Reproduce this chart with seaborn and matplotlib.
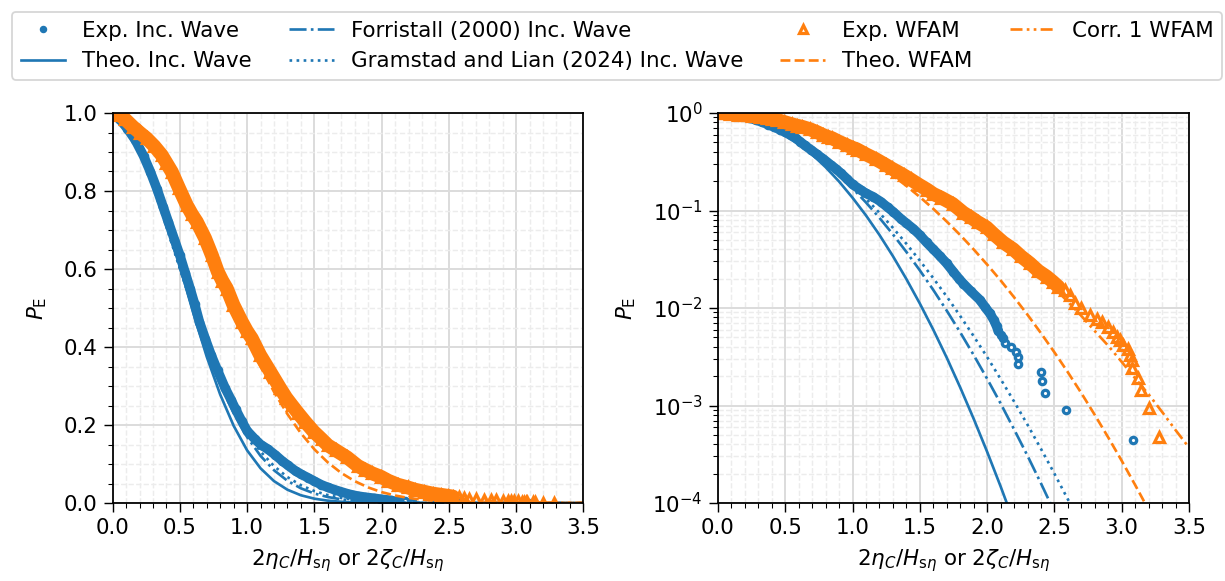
import matplotlib
matplotlib.use("Agg")
import matplotlib.pyplot as plt
from matplotlib.lines import Line2D
from matplotlib.ticker import AutoMinorLocator, MultipleLocator
import seaborn as sns

plt.rcParams["font.size"] = 12
plt.rcParams["xtick.major.size"] = 5
plt.rcParams["ytick.major.size"] = 5
plt.rcParams["xtick.minor.size"] = 3
plt.rcParams["ytick.minor.size"] = 3

BLUE = "#1f77b4"
ORANGE = "#ff7f0e"

# ---------------------------------------------------------------------------
# Model exceedance curves, sampled on a common crest-height grid
# ---------------------------------------------------------------------------
x_model = [0.0, 0.1, 0.2, 0.3, 0.4, 0.5, 0.6, 0.7, 0.8, 0.9,
           1.0, 1.1, 1.2, 1.3, 1.4, 1.5, 1.6, 1.7, 1.8, 1.9,
           2.0, 2.1, 2.2, 2.3, 2.4, 2.5, 2.6, 2.7, 2.8, 2.9,
           3.0, 3.1, 3.2, 3.3, 3.4, 3.5]

p_theo_inc = [1.0, 0.980, 0.923, 0.835, 0.726, 0.607, 0.487, 0.375, 0.278, 0.198,
              0.135, 0.0889, 0.0561, 0.0340, 0.0198, 0.0111, 5.98e-3, 3.09e-3, 1.53e-3, 7.3e-4,
              3.35e-4, 1.48e-4, 6.3e-5, 2.5e-5, 9.9e-6, 3.7e-6, 1.3e-6, 4.6e-7, 1.6e-7, 5.0e-8,
              1.5e-8, 4.5e-9, 1.3e-9, 3.5e-10, 9.1e-11, 2.3e-11]

p_forristall = [1.0, 0.9735, 0.9094, 0.8198, 0.7151, 0.6044, 0.4958, 0.3950, 0.3060, 0.2305,
                0.1690, 0.1207, 0.0840, 0.0569, 0.0376, 0.0243, 0.0153, 9.38e-3, 5.63e-3, 3.29e-3,
                1.88e-3, 1.05e-3, 5.7e-4, 3.05e-4, 1.59e-4, 8.1e-5, 4.0e-5, 2.0e-5, 9.3e-6, 4.4e-6,
                2.0e-6, 8.8e-7, 3.8e-7, 1.6e-7, 6.9e-8, 2.8e-8]

p_gramstad = [1.0, 0.970, 0.9026, 0.8119, 0.7083, 0.6008, 0.4960, 0.3993, 0.3135, 0.2404,
              0.1801, 0.1320, 0.0946, 0.0664, 0.0456, 0.0306, 0.0202, 0.0131, 8.27e-3, 5.14e-3,
              3.14e-3, 1.87e-3, 1.10e-3, 6.35e-4, 3.59e-4, 2.0e-4, 1.09e-4, 5.8e-5, 3.1e-5, 1.6e-5,
              8.1e-6, 4.1e-6, 2.0e-6, 9.7e-7, 4.6e-7, 2.2e-7]

p_theo_wfam = [1.0, 0.9923, 0.9686, 0.9294, 0.8763, 0.8117, 0.7385, 0.6598, 0.5788, 0.4986,
               0.4216, 0.3499, 0.2850, 0.2278, 0.1787, 0.1376, 0.1040, 0.0770, 0.0560, 0.0399,
               0.0279, 0.0192, 0.0129, 8.53e-3, 5.52e-3, 3.51e-3, 2.19e-3, 1.34e-3, 8.0e-4, 4.7e-4,
               2.71e-4, 1.53e-4, 8.5e-5, 4.6e-5, 2.4e-5, 1.3e-5]

p_corr1_wfam = [1.0, 0.990, 0.955, 0.915, 0.865, 0.800, 0.730, 0.660, 0.575, 0.500,
                0.435, 0.370, 0.312, 0.260, 0.215, 0.176, 0.143, 0.117, 0.094, 0.075,
                0.060, 0.047, 0.037, 0.029, 0.0218, 0.016, 0.0116, 0.0083, 0.0058, 0.0041,
                0.0028, 0.0019, 0.0013, 8.6e-4, 5.6e-4, 3.7e-4]

# ---------------------------------------------------------------------------
# Measured crest exceedance (dense body and sparse extreme tail)
# ---------------------------------------------------------------------------
x_exp_inc = [0.0, 0.05, 0.11, 0.17, 0.23, 0.28, 0.33, 0.375, 0.415, 0.46,
             0.50, 0.54, 0.576, 0.61, 0.645, 0.69, 0.732, 0.78, 0.836, 0.88,
             0.915, 0.96, 1.0, 1.06, 1.10, 1.154, 1.21, 1.26, 1.302, 1.36,
             1.40, 1.451, 1.50, 1.55, 1.60, 1.65, 1.699, 1.748, 1.79, 1.823,
             1.88, 1.946, 1.985, 2.02, 2.05, 2.07, 2.083]
p_exp_inc = [1.0, 0.985, 0.96, 0.93, 0.89, 0.85, 0.805, 0.76, 0.72, 0.675,
             0.635, 0.59, 0.55, 0.51, 0.465, 0.42, 0.38, 0.34, 0.295, 0.265,
             0.24, 0.21, 0.185, 0.163, 0.15, 0.138, 0.123, 0.108, 0.097, 0.082,
             0.074, 0.065, 0.056, 0.047, 0.040, 0.034, 0.0287, 0.0236, 0.020, 0.0178,
             0.0148, 0.0121, 0.0102, 0.0088, 0.0075, 0.0065, 0.0058]
x_exp_inc_tail = [2.10, 2.12, 2.132, 2.177, 2.216, 2.226, 2.229, 2.402, 2.407, 2.427, 2.585, 3.085]
p_exp_inc_tail = [0.0053, 0.0049, 0.0044, 0.0040, 0.00356, 0.00311, 0.00267, 0.00222,
                  0.00178, 0.00133, 0.00089, 0.000444]

x_exp_wfam = [0.0, 0.05, 0.09, 0.15, 0.20, 0.253, 0.31, 0.365, 0.40, 0.44,
              0.494, 0.551, 0.59, 0.626, 0.687, 0.737, 0.782, 0.815, 0.849, 0.898,
              0.96, 1.0, 1.035, 1.097, 1.171, 1.246, 1.29, 1.332, 1.38, 1.432,
              1.495, 1.556, 1.60, 1.66, 1.743, 1.823, 1.878, 1.93, 1.996, 2.05,
              2.12, 2.194, 2.25, 2.318, 2.38, 2.442, 2.49, 2.53]
p_exp_wfam = [1.0, 0.995, 0.985, 0.965, 0.95, 0.935, 0.915, 0.892, 0.872, 0.849,
              0.807, 0.764, 0.74, 0.721, 0.679, 0.636, 0.593, 0.57, 0.55, 0.508,
              0.465, 0.44, 0.422, 0.379, 0.337, 0.294, 0.27, 0.251, 0.23, 0.208,
              0.183, 0.163, 0.148, 0.135, 0.117, 0.095, 0.085, 0.076, 0.067, 0.057,
              0.047, 0.040, 0.034, 0.0287, 0.024, 0.021, 0.0185, 0.0165]
x_exp_wfam_tail = [2.578, 2.615, 2.652, 2.701, 2.763, 2.813, 2.85, 2.90, 2.937, 2.962,
                   2.987, 3.011, 3.045, 3.061, 3.073, 3.08, 3.123, 3.141, 3.202, 3.279]
p_exp_wfam_tail = [0.0153, 0.0136, 0.0112, 0.0099, 0.0085, 0.0078, 0.0072, 0.0064, 0.0057, 0.0051,
                   0.0047, 0.0042, 0.0038, 0.0033, 0.0029, 0.0024, 0.0019, 0.00143, 0.00095, 0.00048]

labels = ["Exp. Inc. Wave", "Theo. Inc. Wave", "Forristall (2000) Inc. Wave",
          "Gramstad and Lian (2024) Inc. Wave", "Exp. WFAM", "Theo. WFAM", "Corr. 1 WFAM"]

INC_MARK = dict(marker="o", ms=3.6, mfc="none", mec=BLUE, mew=1.8)
WFAM_MARK = dict(marker="^", ms=5.4, mfc="none", mec=ORANGE, mew=1.8)
CORR_DASHES = (4.5, 1.6, 1.0, 1.6, 1.0, 1.6)


def line(ax, x, y, color, lw=1.5, ls="-", **kw):
    sns.lineplot(x=x, y=y, ax=ax, color=color, lw=lw, ls=ls, sort=False,
                 estimator=None, legend=False, **kw)
    return ax.lines[-1]


def markers(ax, x, y, style):
    sns.lineplot(x=x, y=y, ax=ax, ls="none", sort=False, estimator=None,
                 legend=False, **style)


def draw_panel(ax):
    # incident wave
    line(ax, x_exp_inc, p_exp_inc, BLUE, lw=5.4, solid_capstyle="round")
    markers(ax, x_exp_inc + x_exp_inc_tail, p_exp_inc + p_exp_inc_tail, INC_MARK)
    line(ax, x_model, p_theo_inc, BLUE)
    line(ax, x_model, p_forristall, BLUE, ls="-.")
    line(ax, x_model, p_gramstad, BLUE, ls=":")
    # wave-following measurement
    line(ax, x_exp_wfam, p_exp_wfam, ORANGE, lw=7.8, solid_capstyle="round")
    markers(ax, x_exp_wfam + x_exp_wfam_tail, p_exp_wfam + p_exp_wfam_tail, WFAM_MARK)
    line(ax, x_model, p_theo_wfam, ORANGE, ls="--")
    corr = line(ax, x_model, p_corr1_wfam, ORANGE, ls="--")
    corr.set_dashes(CORR_DASHES)

    ax.set_xlim(0, 3.5)
    ax.xaxis.set_major_locator(MultipleLocator(0.5))
    ax.xaxis.set_minor_locator(AutoMinorLocator())
    ax.set_axisbelow(True)
    ax.grid(True, which="major", color="#dcdcdc", lw=1.1)
    ax.grid(True, which="minor", color="#ececec", lw=0.8, ls="--")
    ax.set_xlabel(r"$2\eta_C/H_{\mathrm{s}\eta}$ or $2\zeta_C/H_{\mathrm{s}\eta}$", labelpad=5)
    ax.set_ylabel(r"$P_\mathrm{E}$", labelpad=8)
    for s in ax.spines.values():
        s.set_linewidth(1.0)


W, H = 1225, 581
fig = plt.figure(figsize=(W / 128, H / 128), dpi=128)
ax_lin = fig.add_axes([112.6 / W, 78 / H, 470.8 / W, 390 / H])
ax_log = fig.add_axes([718 / W, 78 / H, 471 / W, 390 / H])

draw_panel(ax_lin)
ax_lin.set_ylim(0, 1)
ax_lin.yaxis.set_minor_locator(AutoMinorLocator())

ax_log.set_yscale("log")
draw_panel(ax_log)
ax_log.set_ylim(1e-4, 1)

handles = [
    Line2D([], [], ls="none", marker="o", ms=3.2, mfc=BLUE, mec=BLUE, mew=1.0),
    Line2D([], [], color=BLUE, lw=1.5),
    Line2D([], [], color=BLUE, lw=1.5, ls="-."),
    Line2D([], [], color=BLUE, lw=1.5, ls=":"),
    Line2D([], [], ls="none", marker="^", ms=4.6, mfc="none", mec=ORANGE, mew=1.8),
    Line2D([], [], color=ORANGE, lw=1.5, ls="--"),
    Line2D([], [], color=ORANGE, lw=1.5, dashes=CORR_DASHES),
]
fig.legend(handles, labels, ncol=4, mode="expand", loc="upper center",
           bbox_to_anchor=(12 / W, 0, 1210 / W, 1 - 12 / H), borderaxespad=0,
           handlelength=2.1, handletextpad=0.8, edgecolor="#cccccc")

fig.savefig("out.png", dpi=128)
